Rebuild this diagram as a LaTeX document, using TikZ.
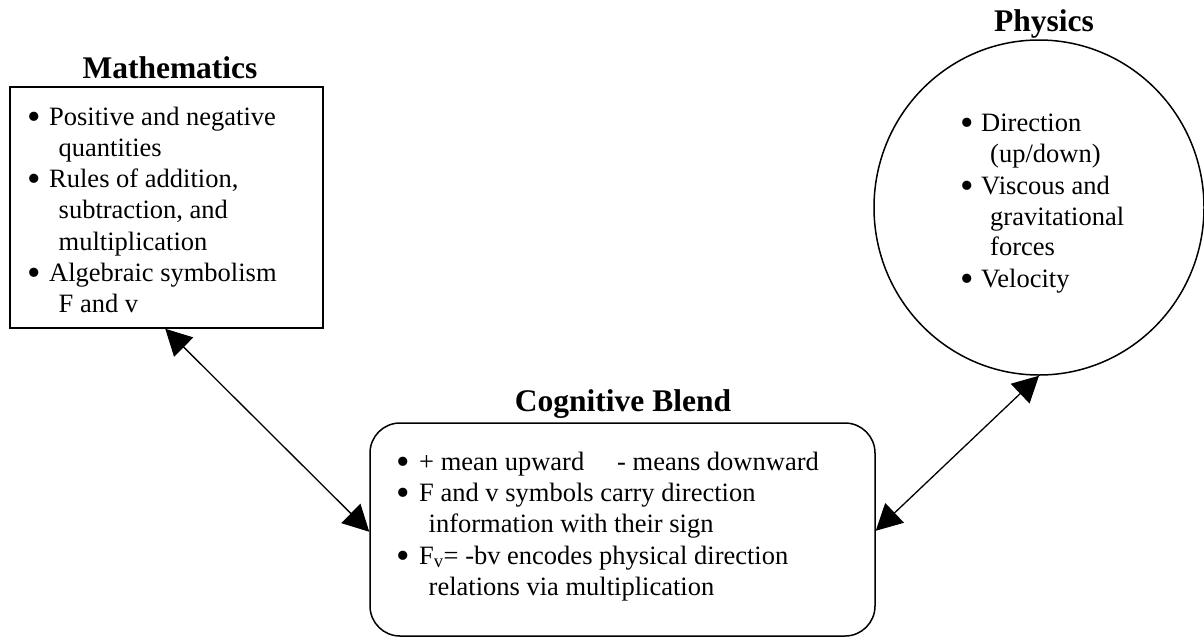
\documentclass[tikz,border=0pt]{standalone}
\usepackage{fontspec}
\usepackage{graphicx}
\setmainfont{Liberation Serif}
\usetikzlibrary{shapes.geometric,arrows.meta}
\newcommand\bulbox[1]{\makebox[#1][l]{\hspace*{-2pt}\smash{\raisebox{-4pt}{\scalebox{1.45}{\textbullet}}}}}
\tikzset{
  txt/.style={anchor=base west, inner sep=0pt, font=\fontsize{26.5}{31}\selectfont},
  ttl/.style={anchor=base, inner sep=0pt, font=\bfseries\fontsize{31.5}{36}\selectfont},
  frame/.style={draw, line width=1.5pt, inner sep=0pt},
  link/.style={line width=1.3pt, {Triangle[length=26pt,width=27pt]}-{Triangle[length=26pt,width=27pt]}}
}
\begin{document}
\begin{tikzpicture}[x=1pt,y=-1pt]
\useasboundingbox (0,0) rectangle (1204,638);

% boxes
\node[frame, rectangle, minimum width=313pt, minimum height=241pt] (math) at (166.5,207.5) {};
\node[frame, ellipse, minimum width=330pt, minimum height=335pt] (phys) at (1039,207.5) {};
\node[frame, rectangle, rounded corners=30pt, minimum width=505pt, minimum height=213pt] (blend) at (622.5,529.5) {};

% titles
\node[ttl] (tmath) at (170,78) {Mathematics};
\node[ttl] (tphys) at (1044,31.5) {Physics};
\node[ttl] (tblend) at (623,411.5) {Cognitive Blend};

% mathematics text
\node[txt] (m1) at (29.5,125) {\bulbox{19.5pt}Positive and negative};
\node[txt] (m2) at (58.5,156) {quantities};
\node[txt] (m3) at (29.5,187.5) {\bulbox{19.5pt}Rules of addition,};
\node[txt] (m4) at (58.5,218.5) {subtraction, and};
\node[txt] (m5) at (58.5,250) {multiplication};
\node[txt] (m6) at (29.5,281) {\bulbox{19.5pt}Algebraic symbolism};
\node[txt] (m7) at (58.5,312) {F and v};

% physics text
\node[txt] (p1) at (962.5,131.5) {\bulbox{18.5pt}Direction};
\node[txt] (p2) at (990,162) {(up/down)};
\node[txt] (p3) at (962.5,194) {\bulbox{18.5pt}Viscous and};
\node[txt] (p4) at (990,225) {gravitational};
\node[txt] (p5) at (990,255.5) {forces};
\node[txt] (p6) at (962.5,287) {\bulbox{18.5pt}Velocity};

% blend text
\node[txt] (b1) at (398.5,470.5) {\bulbox{20.5pt}+ mean upward};
\node[txt] (b1r) at (617,470.5) {- means downward};
\node[txt] (b2) at (398.5,501.5) {\bulbox{20.5pt}F and v symbols carry direction};
\node[txt] (b3) at (428.5,532.5) {information with their sign};
\node[txt] (b4) at (398.5,564) {\bulbox{20.5pt}F\textsubscript{v}= -bv encodes physical direction};
\node[txt] (b5) at (428.5,595) {relations via multiplication};

% connectors
\draw[link] ([xshift=156pt]math.south west) -- ([yshift=105pt]blend.south west);
\draw[link] (phys.south) -- ([yshift=106pt]blend.south east);
\end{tikzpicture}
\end{document}
